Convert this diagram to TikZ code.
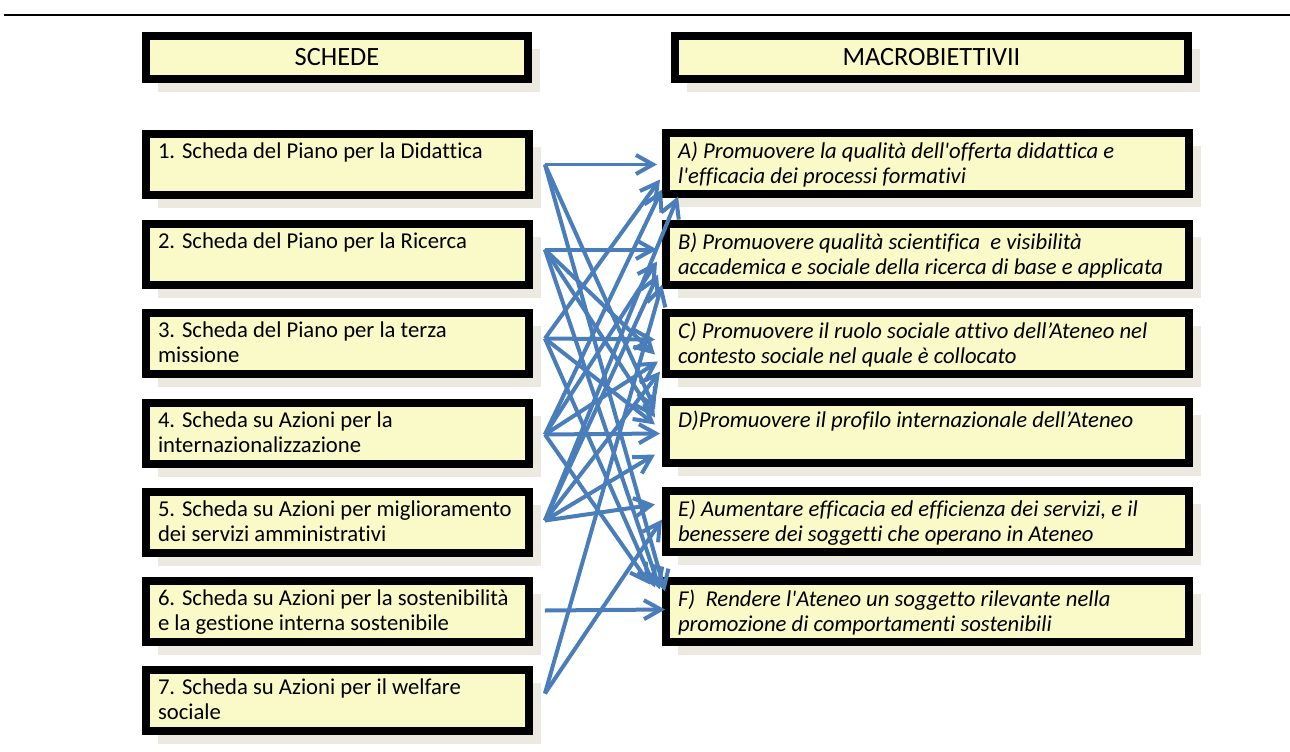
\documentclass[tikz,border=0pt]{standalone}
\usepackage{fontspec}
\setmainfont{Carlito}[Ligatures=NoCommon]
\usetikzlibrary{arrows.meta,calc,shadows}

\definecolor{boxfill}{HTML}{FAFAC8}
\definecolor{boxshade}{HTML}{ECEAE0}
\definecolor{linkblue}{HTML}{4A7EBB}

\newcommand{\boxtxt}[2]{\parbox[c][0.86cm][t]{#1}{\raggedright #2}}
\newcommand{\apo}{\textquotesingle}

\tikzset{
	head/.style={draw=black, line width=0.16cm, fill=boxfill, inner sep=0pt, outer sep=0pt,
		anchor=north west, minimum height=0.86cm, font=\fontsize{15}{17}\selectfont,
		general shadow={fill=boxshade, shadow xshift=0.24cm, shadow yshift=-0.26cm}},
	scheda/.style={draw=black, line width=0.16cm, fill=boxfill, inner xsep=0.24cm, inner ysep=0.18cm,
		outer sep=0pt, anchor=north west, font=\fontsize{12.9}{14.2}\selectfont,
		general shadow={fill=boxshade, shadow xshift=0.24cm, shadow yshift=-0.26cm}},
	obiettivo/.style={scheda, font=\fontsize{12.9}{14.2}\selectfont\itshape},
	link/.style={draw=linkblue, line width=0.08cm, -{Straight Barb[length=0.34cm,width=0.38cm]}}
}

\begin{document}
\begin{tikzpicture}[x=0.02cm, y=-0.02cm]
	\useasboundingbox (0,0) rectangle (1290,751);
	\draw[line width=0.05cm] (4,15) -- (1290,15);

	\node[head, minimum width=7.64cm] (schede) at (146,36) {SCHEDE};
	\node[head, minimum width=10.26cm] (macro) at (675,36) {MACROBIETTIVII};

	% schede
	\node[scheda] (s1) at (146,134) {\boxtxt{7.18cm}{1. Scheda del Piano per la Didattica}};
	\node[scheda] (s2) at (146,224) {\boxtxt{7.18cm}{2. Scheda del Piano per la Ricerca}};
	\node[scheda] (s3) at (146,313) {\boxtxt{7.18cm}{3. Scheda del Piano per la terza\\ missione}};
	\node[scheda] (s4) at (146,403) {\boxtxt{7.18cm}{4. Scheda su Azioni per la\\ internazionalizzazione}};
	\node[scheda] (s5) at (146,492) {\boxtxt{7.18cm}{5. Scheda su Azioni per miglioramento\\ dei servizi amministrativi}};
	\node[scheda] (s6) at (146,581) {\boxtxt{7.18cm}{6. Scheda su Azioni per la sostenibilità\\ e la gestione interna sostenibile}};
	\node[scheda] (s7) at (146,670) {\boxtxt{7.18cm}{7. Scheda su Azioni per il welfare\\ sociale}};

	% macrobiettivi
	\node[obiettivo] (a) at (666,133) {\boxtxt{9.98cm}{A) Promuovere la qualità dell\apo offerta didattica e\\ l\apo efficacia dei processi formativi}};
	\node[obiettivo] (b) at (666,224) {\boxtxt{9.98cm}{B) Promuovere qualità scientifica\ \ e visibilità\\ accademica e sociale della ricerca di base e applicata}};
	\node[obiettivo] (c) at (666,313) {\boxtxt{9.98cm}{C) Promuovere il ruolo sociale attivo dell’Ateneo nel\\ contesto sociale nel quale è collocato}};
	\node[obiettivo] (d) at (666,402) {\boxtxt{9.98cm}{D)Promuovere il profilo internazionale dell’Ateneo}};
	\node[obiettivo] (e) at (666,491) {\boxtxt{9.98cm}{E) Aumentare efficacia ed efficienza dei servizi, e il\\ benessere dei soggetti che operano in Ateneo}};
	\node[obiettivo] (f) at (666,581) {\boxtxt{9.98cm}{F)\ \ Rendere l\apo Ateneo un soggetto rilevante nella\\ promozione di comportamenti sostenibili}};

	\coordinate (o1) at ($(s1.east)+(16,0)$);
	\coordinate (o2) at ($(s2.east)+(16,-5)$);
	\coordinate (o3) at ($(s3.east)+(16,-5)$);
	\coordinate (o4) at ($(s4.east)+(16,1)$);
	\coordinate (o5) at ($(s5.east)+(16,-2)$);
	\coordinate (o6) at ($(s6.east)+(16,-1)$);
	\coordinate (o7) at ($(s7.east)+(16,-7)$);

	\foreach \src/\dst/\dx/\dy in {o1/a/-9/1, o3/a/-6/16, o4/a/-4/26, o5/a/12/33,
		o2/b/-9/-5, o4/b/-9/7, o5/b/-8/20, o7/b/-4/30,
		o3/c/-11/-4, o2/c/-11/11, o4/c/-8/18, o5/c/-6/28,
		o4/d/-6/1, o1/d/-11/-23, o2/d/-11/-15, o3/d/-11/-8, o5/d/-11/22,
		o5/e/-11/-17, o7/e/-4/-2,
		o6/f/-1/-2, o1/f/-1/-20, o2/f/-6/-22, o3/f/-11/-24, o4/f/-16/-27}
		\draw[link] (\src) -- ($(\dst.west)+(\dx,\dy)$);
\end{tikzpicture}
\end{document}
